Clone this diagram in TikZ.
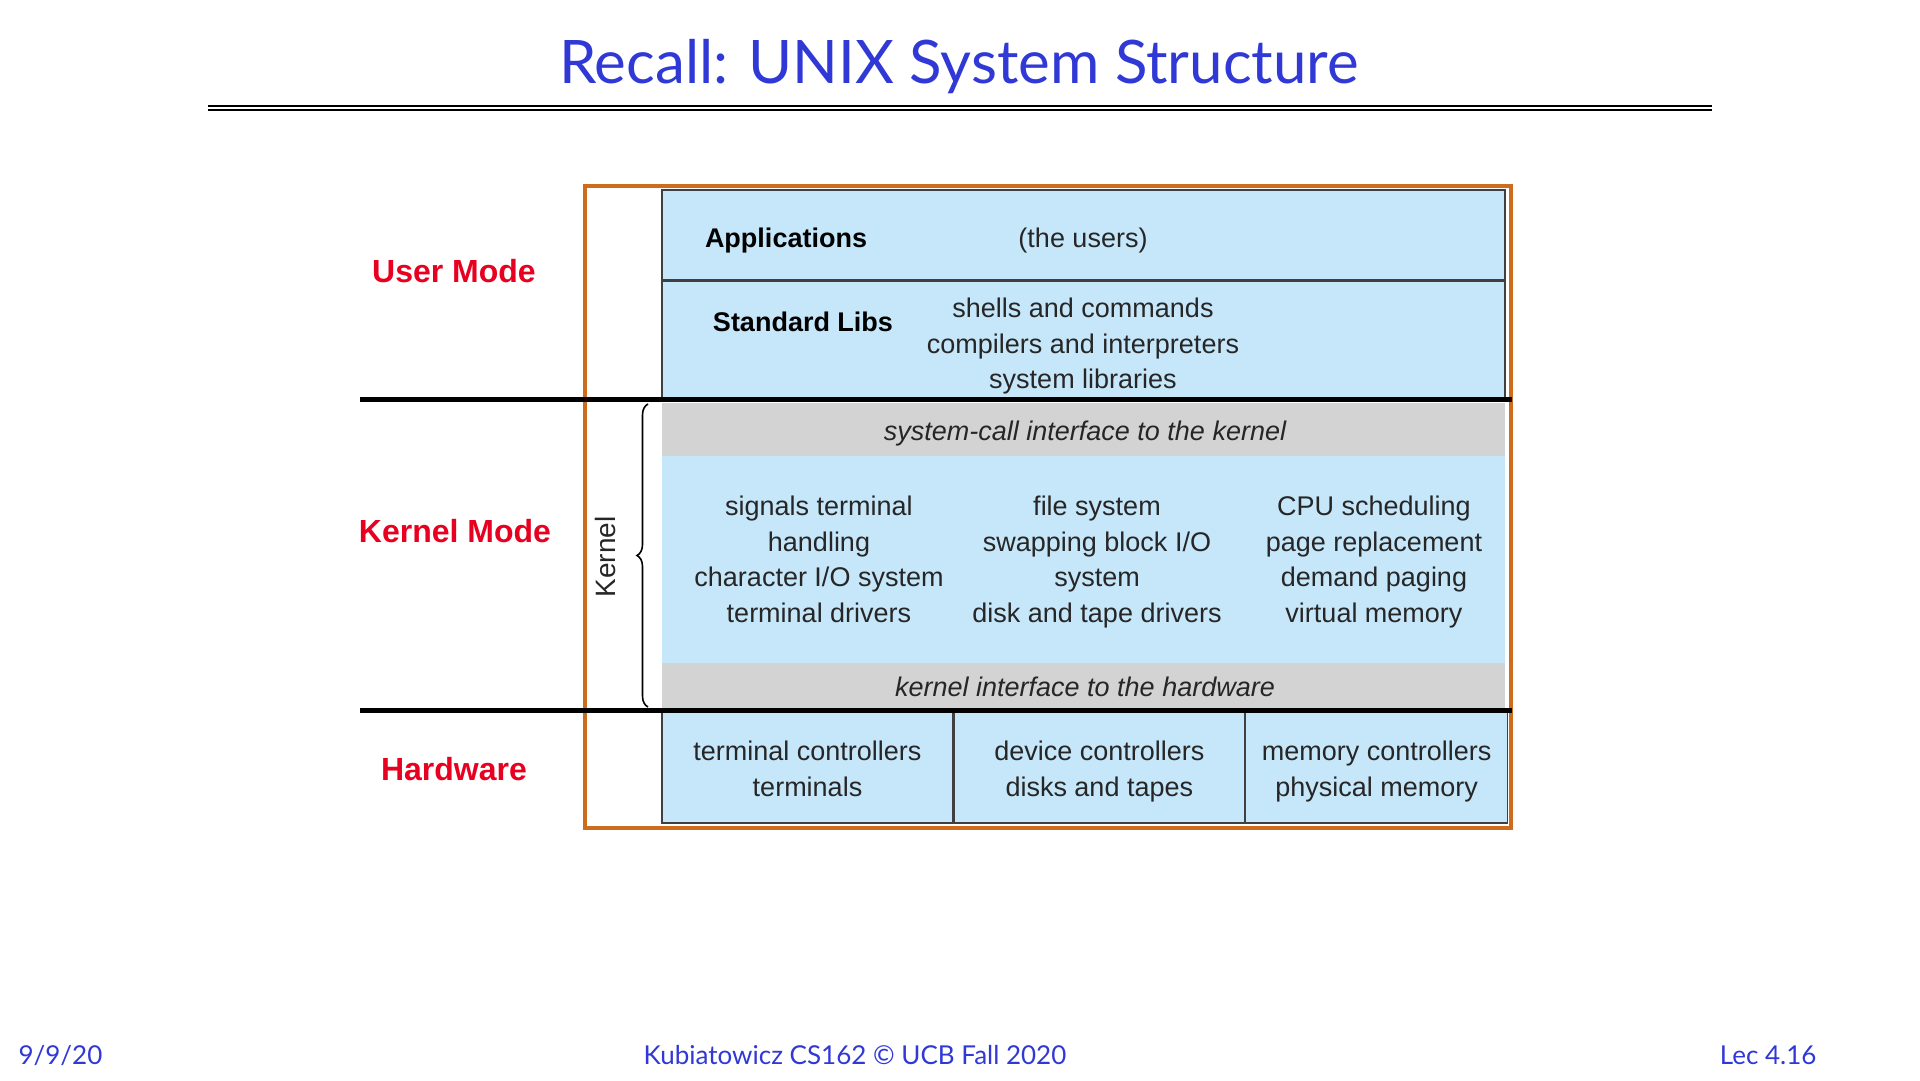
\documentclass[tikz,border=0pt]{standalone}
\usepackage{fontspec}
\setmainfont{Liberation Sans}
\newfontfamily\slidefont{Lato}
\usetikzlibrary{positioning, calc, decorations.pathreplacing}
\definecolor{slideblue}{RGB}{48,56,214}
\definecolor{layerblue}{RGB}{198,231,250}
\definecolor{layergray}{RGB}{211,211,211}
\definecolor{frameorange}{RGB}{204,108,28}
\definecolor{modered}{RGB}{232,0,32}

\begin{document}
\begin{tikzpicture}[
        x=1pt, y=-1pt,
        txt/.style={font=\fontsize{27}{35.5}\selectfont, align=center, inner sep=0pt, text=black!85},
        layer/.style={draw=black!75, line width=1.3pt, fill=layerblue, inner sep=0pt, minimum width=843pt},
        band/.style={fill=layergray, inner sep=0pt, minimum width=843pt},
        hwbox/.style={layer, minimum height=111pt},
        mode/.style={font=\fontsize{32}{38}\selectfont\bfseries, text=modered},
        sepline/.style={line width=5pt},
        foot/.style={font=\slidefont\fontsize{26}{30}\selectfont, text=slideblue, anchor=base}
    ]
        \useasboundingbox (0,0) rectangle (1920,1080);

        % --- title ---
        \node[font=\slidefont\fontsize{60}{68}\selectfont, text=slideblue, anchor=base] (title) at (959,83) {Recall: UNIX System Structure};
        \draw[line width=2pt] (208,106) -- (1712,106);
        \draw[line width=2pt] (208,110) -- (1712,110);

        % --- outer frame ---
        \node[draw=frameorange, line width=4pt, minimum width=926pt, minimum height=642pt, inner sep=0pt] (frame) at (1048,507) {};

        % --- user mode layers ---
        \node[layer, minimum height=90pt] (apps) at (1083.5,235) {};
        \node[layer, minimum height=119pt, below=0pt of apps] (libs) {};
        \node[txt, font=\fontsize{27}{35.5}\selectfont\bfseries, text=black, anchor=base] (appname) at (786,247) {Applications};
        \node[txt, anchor=base] (users) at (1083,247) {(the users)};
        \node[txt, font=\fontsize{27}{35.5}\selectfont\bfseries, text=black] (libname) at (803,322) {Standard Libs};
        \node[txt] (libtools) at (1083,346.5) {shells and commands\\compilers and interpreters\\system libraries};

        % --- kernel layers ---
        \node[band, minimum height=53pt] (syscall) at (1083.5,429) {};
        \node[band, fill=layerblue, minimum height=207pt, below=0pt of syscall] (kcore) {};
        \node[band, minimum height=46pt, below=0pt of kcore] (khw) {};
        \node[txt, font=\fontsize{27}{35.5}\selectfont\itshape, anchor=base] (syscalltxt) at (1085,440) {system-call interface to the kernel};
        \node[txt, font=\fontsize{27}{35.5}\selectfont\itshape, anchor=base] (khwtxt) at (1085,696) {kernel interface to the hardware};
        \node[txt, anchor=north] (kterm) at (819,496) {signals terminal\\handling\\character I/O system\\terminal drivers};
        \node[txt, anchor=north] (kfile) at (1097,496) {file system\\swapping block I/O\\system\\disk and tape drivers};
        \node[txt, anchor=north] (kmem) at (1374,496) {CPU scheduling\\page replacement\\demand paging\\virtual memory};

        % --- hardware ---
        \node[hwbox, minimum width=291pt] (hwterm) at (807.5,767.5) {};
        \node[hwbox, minimum width=290pt, right=0pt of hwterm] (hwdev) {};
        \node[hwbox, minimum width=262pt, right=0pt of hwdev] (hwmem) {};
        \node[txt, anchor=north] (hwtermtxt) at (807.5,741) {terminal controllers\\terminals};
        \node[txt, anchor=north] (hwdevtxt) at (hwdev.center |- hwtermtxt.north) {device controllers\\disks and tapes};
        \node[txt, anchor=north] (hwmemtxt) at (hwmem.center |- hwtermtxt.north) {memory controllers\\physical memory};

        % --- mode boundaries ---
        \draw[sepline] (360,399) -- (1512,399);
        \draw[sepline] (360,710) -- (1512,710);

        % --- kernel brace ---
        \draw[line width=1.6pt, decorate, decoration={brace, amplitude=11pt}] (648,707) -- (648,404);
        \node[font=\fontsize{28}{32}\selectfont, rotate=90, text=black!85] (kernel) at (605,557) {Kernel};

        % --- modes ---
        \node[mode] (user) at (454,271) {User Mode};
        \node[mode] (kmode) at (455,531) {Kernel Mode};
        \node[mode] (hwmode) at (454,769) {Hardware};

        % --- footer ---
        \node[foot, anchor=base west] (date) at (15,1064) {9/9/20};
        \node[foot] (course) at (855,1064) {Kubiatowicz CS162 © UCB Fall 2020};
        \node[foot, anchor=base east] (lec) at (1820,1064) {Lec 4.16};
    \end{tikzpicture}
\end{document}
